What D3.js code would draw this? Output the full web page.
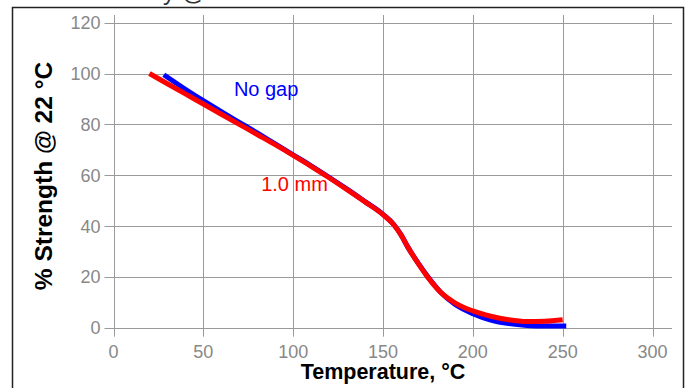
<!DOCTYPE html>
<html><head><meta charset="utf-8">
<script src="https://cdn.jsdelivr.net/npm/d3@7"></script>
<style>
html,body{margin:0;padding:0;background:#fff;}
svg{display:block;font-family:Arial,"Liberation Sans",sans-serif;}
</style></head>
<body>
<svg id="chart" width="687" height="388"></svg>
<script>
// ---- data ----
const xTicks = [0, 50, 100, 150, 200, 250, 300];
const yTicks = [0, 20, 40, 60, 80, 100, 120];
const noGapTemp = [28, 40, 50, 60, 70, 80, 90, 100, 110, 120, 130, 140, 150, 156, 160, 164, 170, 175, 182, 190, 200, 210, 220, 230, 240, 252];
const noGapStrength = [99.5, 93.8, 89.3, 85, 80.8, 76.6, 72.3, 68, 63.7, 59.2, 54.5, 49.6, 44.6, 40.6, 36.6, 31.5, 25, 20, 14, 9.2, 5.5, 3, 1.6, 0.9, 0.7, 0.7];
const mm10Temp = [20, 30, 40, 50, 60, 70, 80, 90, 100, 110, 120, 130, 140, 150, 156, 160, 164, 170, 175, 182, 190, 200, 210, 220, 230, 240, 250];
const mm10Strength = [100, 96, 92, 88, 84, 80, 76, 72, 67.8, 63.5, 59, 54.3, 49.5, 44.5, 40.5, 36.5, 31.5, 24.8, 19.8, 14, 9.8, 6.6, 4.5, 3.1, 2.4, 2.5, 3.1];
const seriesNames = ["No gap", "1.0 mm"];
const seriesColors = ["#0000ff", "#ff0000"];
const labelTemp = [67, 82.2];
const labelStrength = [91.2, 53.9];
const xTitle = "Temperature, °C";
const yTitle = "% Strength @ 22 °C";
const topTitle = "Joint Assembly @ 1 hr Soak";

// ---- layout ----
const svg = d3.select("#chart");
const x = d3.scaleLinear().domain([0, 300]).range([113.5, 652.5]);
const y = d3.scaleLinear().domain([0, 120]).range([327.7, 22.7]);
const xMax = x.invert(672), yMax = y.invert(15);

// frame
svg.append("rect").attr("x", 12.5).attr("y", 7.5).attr("width", 671).attr("height", 400)
  .attr("fill", "none").attr("stroke", "#222").attr("stroke-width", 1.5);

// clipped top title (only its lower edge shows, as in the reference)
svg.append("text").attr("x", 15).attr("y", 0).attr("font-size", 24).attr("fill", "#333")
  .text(topTitle);

const gridColor = "#9a9a9a";
svg.append("g").selectAll("line").data(yTicks).join("line")
  .attr("x1", x(0) - 9).attr("x2", x(xMax))
  .attr("y1", d => Math.round(y(d)) + 0.5).attr("y2", d => Math.round(y(d)) + 0.5)
  .attr("stroke", gridColor).attr("stroke-width", 1);
svg.append("g").selectAll("line").data(xTicks).join("line")
  .attr("y1", y(yMax)).attr("y2", y(0) + 9)
  .attr("x1", d => Math.round(x(d)) + 0.5).attr("x2", d => Math.round(x(d)) + 0.5)
  .attr("stroke", gridColor).attr("stroke-width", 1);

// tick labels
svg.append("g").selectAll("text").data(yTicks).join("text")
  .attr("x", x(0) - 13).attr("y", d => y(d)).attr("dy", "0.36em")
  .attr("text-anchor", "end").attr("font-size", 18).attr("fill", "#888")
  .text(d => d);
svg.append("g").selectAll("text").data(xTicks).join("text")
  .attr("x", d => x(d)).attr("y", 358)
  .attr("text-anchor", "middle").attr("font-size", 18).attr("fill", "#888")
  .text(d => d);

// axis titles
svg.append("text").attr("x", x(150)).attr("y", 379).attr("text-anchor", "middle")
  .attr("font-size", 21.5).attr("font-weight", "bold").attr("fill", "#000").text(xTitle);
svg.append("text").attr("transform", "translate(51.5,176) rotate(-90)")
  .attr("text-anchor", "middle").attr("font-size", 24.5).attr("font-weight", "bold")
  .attr("fill", "#000").text(yTitle);

// lines
const line = d3.line().x(d => x(d[0])).y(d => y(d[1])).curve(d3.curveMonotoneX);
const series = [
  d3.zip(noGapTemp, noGapStrength),
  d3.zip(mm10Temp, mm10Strength)
];
svg.append("g").selectAll("path").data(series).join("path")
  .attr("d", line).attr("fill", "none")
  .attr("stroke", (d, i) => seriesColors[i]).attr("stroke-width", 5)
  .attr("stroke-linecap", "butt").attr("stroke-linejoin", "round");

// series labels
svg.append("g").selectAll("text").data(seriesNames).join("text")
  .attr("x", (d, i) => x(labelTemp[i])).attr("y", (d, i) => y(labelStrength[i]))
  .attr("font-size", 20).attr("fill", (d, i) => seriesColors[i]).text(d => d);
</script>
</body></html>
